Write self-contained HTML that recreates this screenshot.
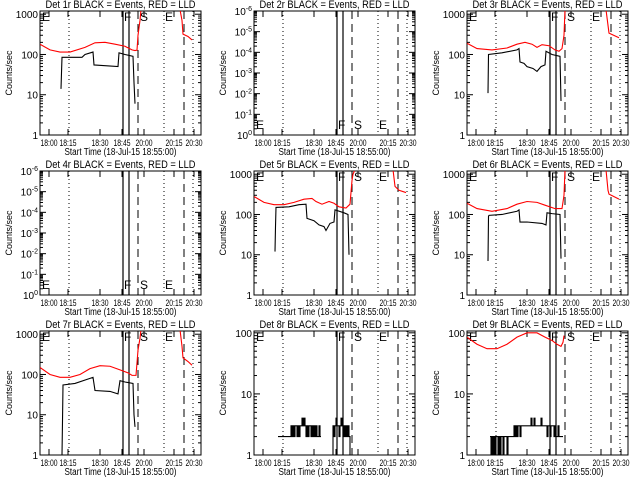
<!DOCTYPE html>
<html><head><meta charset="utf-8"><style>
html,body{margin:0;padding:0;background:#fff}
svg{display:block;font-family:"Liberation Sans",sans-serif}
</style></head><body>
<svg id="c" width="640" height="480" viewBox="0 0 640 480"></svg>
<script>
// ---- data (time in axis units 0..161 across plot width) ----
const tickTimes = [9, 28, 60, 82, 104, 134, 154];
const tickLabels = ["18:00","18:15","18:30","18:45","20:00","20:15","20:30"];
const dottedTimes = [29, 124, 153];
const dashedTimes = [98, 144];
const solidTimes = [83, 89];

const red1a = [[0,180],[10,130],[20,115],[30,115],[45,150],[55,195],[65,200],[75,180],[85,160],[92,130],[95,125],[97,128],[98,300],[100,700],[101,1300]];
const red1b = [[140,1300],[142,700],[143,320],[148,280],[152,230]];
const blk1 = [[21,14],[21.5,35],[22,85],[42,85],[45,100],[53,115],[54,55],[78,50],[79,110],[85,100],[93,90],[94,20],[95,6]];

const red3a = [[0,190],[10,140],[25,130],[40,145],[50,180],[58,200],[65,180],[70,150],[75,175],[82,165],[88,130],[92,120],[95,140],[97,300],[98,1300]];
const red3b = [[139,1300],[142,340],[152,260]];
const blk3 = [[21,11],[21.5,100],[35,110],[50,130],[52,140],[53,65],[57,60],[60,50],[66,45],[70,38],[74,50],[78,55],[79,120],[85,100],[93,90],[94,7]];

const red5a = [[0,280],[10,200],[20,175],[30,175],[40,200],[50,240],[58,250],[62,210],[68,180],[75,210],[80,190],[85,155],[92,145],[96,180],[98,700],[99,1000],[101,1300]];
const red5b = [[139,1300],[141,500],[145,400],[152,350]];
const blk5 = [[21,12],[21.5,50],[22,150],[35,155],[45,175],[52,180],[53,80],[60,70],[65,55],[70,50],[72,40],[76,60],[80,65],[81,130],[90,110],[94,100],[95,10]];

const red6a = [[0,190],[10,140],[25,120],[40,140],[50,180],[60,210],[70,200],[78,170],[88,140],[95,140],[97,300],[98,1300]];
const red6b = [[139,1300],[141,400],[142,320],[152,240]];
const blk6 = [[21,7],[21.5,90],[22,95],[35,100],[50,120],[52,130],[53,65],[60,65],[75,60],[79,55],[80,110],[85,105],[93,100],[94,8]];

const red7a = [[0,150],[10,100],[20,85],[30,85],[40,100],[50,140],[60,165],[70,160],[80,130],[88,110],[92,95],[96,95],[98,400],[100,800],[101,1300]];
const red7b = [[140,1300],[142,500],[143,260],[148,210],[152,170]];
const blk7 = [[22,1],[22.5,7],[23,55],[35,60],[50,80],[53,85],[55,40],[70,38],[78,33],[80,70],[85,65],[93,60],[94,10],[95,5]];

const blk8aStart = 24;
const blk8a = [2,2,2,2,2,2,2,2,2,2,2,2,2,3,2,3,2,3,3,2,3,2,3,3,4,3,4,3,2,3,2,3,3,2,3,2,3,2,3,2,2,3,2,2];
const blk8bStart = 78;
const blk8b = [1,3,2,3,4,3,3,2,3,4,3,2,3,2,3,2,3,2,1];

const red9 = [[0,85],[10,65],[20,55],[30,55],[40,65],[50,85],[60,100],[70,100],[78,85],[85,75],[90,65],[94,60],[96,70],[97,90]];
const blk9Start = 23;
const blk9 = [2,1,2,1,2,1,2,2,1,2,1,2,2,1,2,2,2,1,2,2,2,2,2,
  2,3,2,3,2,3,3,2,3,3,3,3,3,3,3,
  3,3,3,4,3,3,4,3,3,3,3,3,3,4,3,3,3,3,3,2,3,3,2,3,3,3,2,3,2,2,3,2,
  2,2,2,2];

const colL = [40, 254, 467];
const rowT = [11, 171, 331];
const W = 161, H = 124;

const NS = "http://www.w3.org/2000/svg";
const svg = document.getElementById("c");
function mk(tag, attrs, parent) {
  const e = document.createElementNS(NS, tag);
  for (const k in attrs) e.setAttribute(k, attrs[k]);
  (parent || svg).appendChild(e);
  return e;
}
function stepSeries(start, vals) { return vals.map((v, i) => [start + i, v]); }

const panels = [
  {n:1, c:0, r:0, type:"log", hi:3.08, labels:["1000","100","10","1"], series:[[red1a,"red"],[red1b,"red"],[blk1,"black"]], letters:"top"},
  {n:2, c:1, r:0, type:"empty", letters:"bottom"},
  {n:3, c:2, r:0, type:"log", hi:3.08, labels:["1000","100","10","1"], series:[[red3a,"red"],[red3b,"red"],[blk3,"black"]], letters:"top"},
  {n:4, c:0, r:1, type:"empty", letters:"bottom"},
  {n:5, c:1, r:1, type:"log", hi:3.08, labels:["1000","100","10","1"], series:[[red5a,"red"],[red5b,"red"],[blk5,"black"]], letters:"top"},
  {n:6, c:2, r:1, type:"log", hi:3.08, labels:["1000","100","10","1"], series:[[red6a,"red"],[red6b,"red"],[blk6,"black"]], letters:"top"},
  {n:7, c:0, r:2, type:"log", hi:3.08, labels:["1000","100","10","1"], series:[[red7a,"red"],[red7b,"red"],[blk7,"black"]], letters:"top"},
  {n:8, c:1, r:2, type:"log", hi:2.03, labels:["100","10","1"], series:[[stepSeries(blk8aStart,blk8a),"black","step"],[stepSeries(blk8bStart,blk8b),"black","step"]], letters:"top"},
  {n:9, c:2, r:2, type:"log", hi:2.03, labels:["100","10","1"], series:[[red9,"red"],[stepSeries(blk9Start,blk9),"black","step"]], letters:"top"}
];

panels.forEach(p => {
  const L = colL[p.c], T = rowT[p.r];
  const g = mk("g", {});
  
  
  const xs = t => L + t * W / 161;
  const ys = v => T + H - (Math.log10(v) / p.hi) * H;

  const cp = mk("clipPath", {id:"cp"+p.n}, g);
  mk("rect", {x:L, y:T, width:W, height:H}, cp);

  const title = mk("text", {x:L+W/2, y:T-3, "font-size":"11", "text-anchor":"middle", textLength:"150", lengthAdjust:"spacingAndGlyphs"}, g);
  title.textContent = "Det " + p.n + "r BLACK = Events, RED = LLD";
  
  

  const fr = mk("rect", {x:L, y:T, width:W, height:H, fill:"none", stroke:"#000", "stroke-width":"1"}, g);
  
  

  if (p.type === "log") {
    const nd = p.labels.length - 1;
    for (let d = 0; d <= nd; d++) {
      const y = ys(Math.pow(10, d));
      mk("line", {x1:L, y1:y, x2:L+6, y2:y, stroke:"#000"}, g);
      mk("line", {x1:L+W, y1:y, x2:L+W-6, y2:y, stroke:"#000"}, g);
      const tl = mk("text", {x:L-2, y:y+4, "font-size":"10", "text-anchor":"end"}, g);
      tl.textContent = p.labels[nd - d];
      
      
      for (let k = 2; k <= 9; k++) {
        const v = k * Math.pow(10, d);
        if (Math.log10(v) > p.hi) break;
        const yy = ys(v);
        mk("line", {x1:L, y1:yy, x2:L+3, y2:yy, stroke:"#000"}, g);
        mk("line", {x1:L+W, y1:yy, x2:L+W-3, y2:yy, stroke:"#000"}, g);
      }
    }
  } else {
    const expLabels = ["-6","-5","-4","-3","-2","-1","0"];
    for (let i = 0; i < 7; i++) {
      const y = T + i * H / 6;
      mk("line", {x1:L, y1:y, x2:L+6, y2:y, stroke:"#000"}, g);
      mk("line", {x1:L+W, y1:y, x2:L+W-6, y2:y, stroke:"#000"}, g);
      const tl = mk("text", {x:L-2, y:y+4, "font-size":"10", "text-anchor":"end"}, g);
      tl.textContent = "10";
      const sp = mk("tspan", {dy:"-4", "font-size":"7"}, tl);
      sp.textContent = expLabels[i];
      
      
      if (i < 6) for (let k = 2; k <= 9; k++) {
        const yy = T + i * H / 6 + (1 - Math.log10(k)) * H / 6;
        mk("line", {x1:L, y1:yy, x2:L+3, y2:yy, stroke:"#000"}, g);
        mk("line", {x1:L+W, y1:yy, x2:L+W-3, y2:yy, stroke:"#000"}, g);
      }
    }
  }
  const yt = mk("text", {x:0, y:0, "font-size":"9", "text-anchor":"middle", transform:"translate("+(L-28)+","+(T+H/2)+") rotate(-90)"}, g);
  yt.textContent = "Counts/sec";
  
  

  tickTimes.forEach((t, i) => {
    const x = xs(t);
    mk("line", {x1:x, y1:T+H, x2:x, y2:T+H-6, stroke:"#000"}, g);
    mk("line", {x1:x, y1:T, x2:x, y2:T+6, stroke:"#000"}, g);
    const xl = mk("text", {x:x, y:T+H+11, "font-size":"9", "text-anchor":"middle", textLength:"17", lengthAdjust:"spacingAndGlyphs"}, g);
    xl.textContent = tickLabels[i];
    
    
  });
  const xt = mk("text", {x:L+W/2, y:T+H+20, "font-size":"10", "text-anchor":"middle", textLength:"112", lengthAdjust:"spacingAndGlyphs"}, g);
  xt.textContent = "Start Time (18-Jul-15 18:55:00)";
  
  

  dottedTimes.forEach(t => {
    const l = mk("line", {x1:xs(t), y1:T, x2:xs(t), y2:T+H, stroke:"#000", "stroke-dasharray":"1,3"}, g);
    
    
  });
  dashedTimes.forEach(t => {
    const l = mk("line", {x1:xs(t), y1:T, x2:xs(t), y2:T+H, stroke:"#000", "stroke-dasharray":"8,5"}, g);
    
    
  });
  solidTimes.forEach(t => {
    const l = mk("line", {x1:xs(t), y1:T, x2:xs(t), y2:T+H, stroke:"#000", "stroke-width":"1.2"}, g);
    
    
  });

  const ly = p.letters === "top" ? T + 10 : T + H - 6;
  [["E",1],["F",83],["S",99],["E",124]].forEach(([ch, t]) => {
    const tx = mk("text", {x:xs(t)+1, y:ly, "font-size":"12"}, g);
    tx.textContent = ch;
    
    
  });

  if (p.series) p.series.forEach(([pts, col, mode]) => {
    let d = "";
    pts.forEach((pt, i) => {
      const x = xs(pt[0]), y = ys(pt[1]);
      if (i === 0) d += "M" + x + " " + y;
      else if (mode === "step") d += " L" + x + " " + ys(pts[i-1][1]) + " L" + x + " " + y;
      else d += " L" + x + " " + y;
    });
    const path = mk("path", {d:d, fill:"none", stroke:col === "red" ? "#ff0000" : "#000", "stroke-width":"1.1", "clip-path":"url(#cp"+p.n+")"}, g);
    
    
  });
});
</script>
</body></html>
